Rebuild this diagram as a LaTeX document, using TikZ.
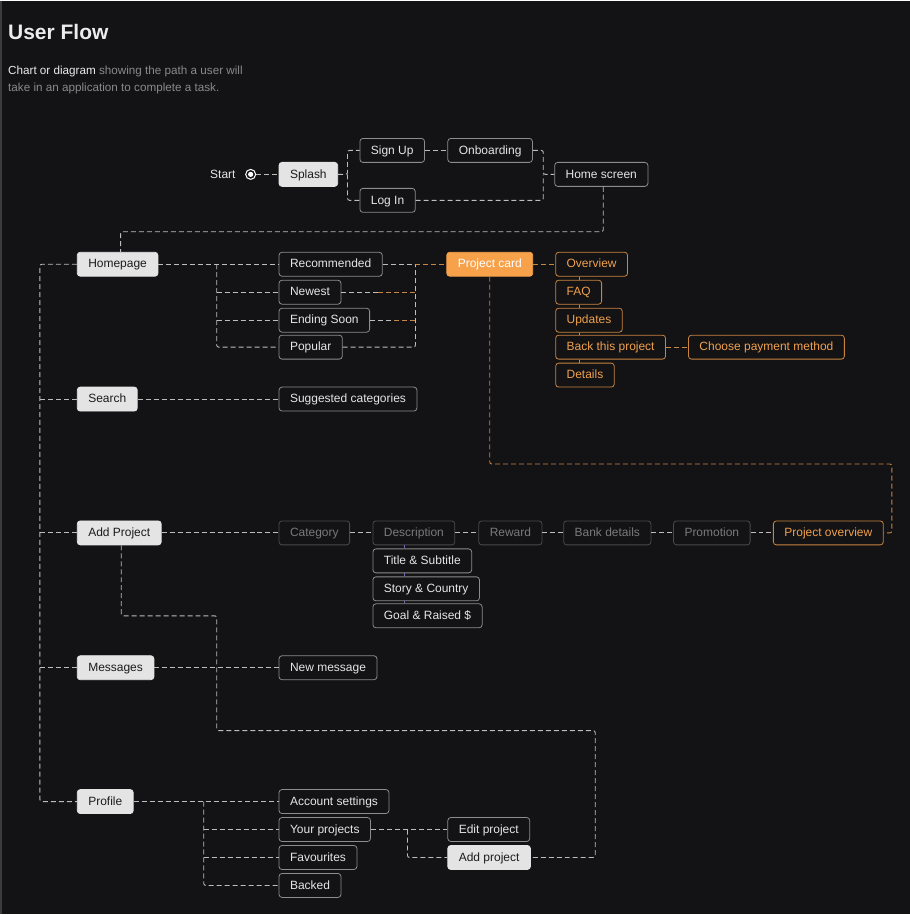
\documentclass[tikz,border=0pt]{standalone}
\usepackage{fontspec}
\setmainfont{Liberation Sans}
\definecolor{bg}{RGB}{19,18,20}
\definecolor{edgec}{RGB}{60,60,62}
\definecolor{boxline}{RGB}{140,140,140}
\definecolor{boxtext}{RGB}{230,230,230}
\definecolor{fillc}{RGB}{228,228,228}
\definecolor{darktext}{RGB}{27,27,27}
\definecolor{orangefill}{RGB}{247,162,75}
\definecolor{orangeline}{RGB}{200,133,64}
\definecolor{orangetext}{RGB}{240,161,79}
\definecolor{dimline}{RGB}{74,74,74}
\definecolor{dimtext}{RGB}{122,122,122}
\definecolor{linec}{RGB}{189,189,189}
\definecolor{vline}{RGB}{111,111,184}
\definecolor{titlec}{RGB}{236,236,236}
\definecolor{subgray}{RGB}{138,138,138}
\begin{document}
\begin{tikzpicture}[x=1pt,y=-1pt,
  every node/.style={font=\fontsize{12}{14}\selectfont},
  box/.style={draw=boxline, rounded corners=3pt, line width=0.8pt, text=boxtext,
    minimum height=24pt, inner xsep=11pt, inner ysep=0pt, text height=8.6pt, text depth=1.2pt, anchor=west},
  fbox/.style={box, fill=fillc, draw=fillc, text=darktext},
  obox/.style={box, draw=orangeline, text=orangetext},
  pbox/.style={box, fill=orangefill, draw=orangefill, text=white},
  dbox/.style={box, draw=dimline, text=dimtext},
  link/.style={draw=linec, dash pattern=on 5pt off 3pt, line width=0.9pt, rounded corners=2pt},
  olink/.style={link, draw=orangeline},
  slink/.style={draw=orangeline, line width=0.8pt},
  plink/.style={draw=vline, line width=0.8pt}
]
\fill[bg] (0,0) rectangle (911,915);
\draw[edgec, line width=1.2pt] (1,0) -- (1,915);

% title
\node[anchor=base west, inner sep=0, font=\bfseries\fontsize{21}{25}\selectfont, text=titlec] (title) at (8,39) {User Flow};
\node[anchor=base west, inner sep=0, font=\fontsize{11.7}{14}\selectfont, text=subgray] (sub1) at (8,74) {\textcolor{titlec}{Chart or diagram} showing the path a user will};
\node[anchor=base west, inner sep=0, font=\fontsize{11.7}{14}\selectfont, text=subgray] (sub2) at (8,91) {take in an application to complete a task.};

% start
\node[anchor=east, inner sep=0, text=boxtext] (starttxt) at (236,174) {Start};
\node[circle, draw=white, line width=1pt, minimum size=10pt, inner sep=0] (startc) at (251,174) {};
\fill[white] (startc.center) circle (2.6pt);

% top nodes
\node[fbox] (splash) at (279,174) {Splash};
\node[box] (signup) at (360,150) {Sign Up};
\node[box] (onb) at (448,150) {Onboarding};
\node[box] (login) at (360,200) {Log In};
\node[box] (home) at (555,174) {Home screen};

% main column
\node[fbox] (homepage) at (77,264) {Homepage};
\node[fbox] (search) at (77,399) {Search};
\node[fbox] (addp) at (77,533) {Add Project};
\node[fbox] (msgs) at (77,668) {Messages};
\node[fbox] (profile) at (77,802) {Profile};

% homepage branch
\node[box] (rec) at (279,264) {Recommended};
\node[box] (newest) at (279,292) {Newest};
\node[box] (ending) at (279,320) {Ending Soon};
\node[box] (popular) at (279,347) {Popular};

\node[pbox] (pcard) at (447,264) {Project card};
\node[obox] (ov) at (556,264) {Overview};
\node[obox] (faq) at (556,292) {FAQ};
\node[obox] (upd) at (556,320) {Updates};
\node[obox] (back) at (556,347) {Back this project};
\node[obox] (pay) at (689,347) {Choose payment method};
\node[obox] (det) at (556,375) {Details};

% search
\node[box] (sugg) at (279,399) {Suggested categories};

% add project
\node[dbox] (cat) at (279,533) {Category};
\node[dbox] (desc) at (373,533) {Description};
\node[box] (tsub) at (373,561) {Title \& Subtitle};
\node[box] (story) at (373,589) {Story \& Country};
\node[box] (goal) at (373,616) {Goal \& Raised \$};
\node[dbox] (reward) at (479,533) {Reward};
\node[dbox] (bank) at (564,533) {Bank details};
\node[dbox] (promo) at (674,533) {Promotion};
\node[obox] (pov) at (774,533) {Project overview};

% messages
\node[box] (newmsg) at (279,668) {New message};

% profile
\node[box] (acct) at (279,802) {Account settings};
\node[box] (yourp) at (279,830) {Your projects};
\node[box] (fav) at (279,858) {Favourites};
\node[box] (backed) at (279,886) {Backed};
\node[box] (editp) at (448,830) {Edit project};
\node[fbox] (addproj) at (448,858) {Add project};

% coordinates
\coordinate (j1) at (348,174);
\coordinate (j2) at (544,174);
\coordinate (hb) at (217,264);
\coordinate (oj) at (416,264);
\coordinate (oc) at (893,464);
\coordinate (k1) at (217,616);
\coordinate (k2) at (596,731);
\coordinate (pb) at (204,802);
\coordinate (yj) at (408,830);

% top links
\draw[link] (startc) -- (splash);
\draw[link] (splash.east) -- (j1) |- (signup.west);
\draw[link] (j1) |- (login.west);
\draw[link] (signup) -- (onb);
\draw[link] (onb.east) -| (j2) -- (home.west);
\draw[link] (login.east) -| (j2);
\draw[link] ([xshift=2pt]home.south) -- ++(0,45) -| ([xshift=3pt]homepage.north);

% spine
\draw[link] (homepage.west) -- ++(-37,0) |- (profile.west);
\draw[link] (search.west) -- ++(-37,0);
\draw[link] (addp.west) -- ++(-37,0);
\draw[link] (msgs.west) -- ++(-37,0);

% homepage branch
\draw[link] (homepage) -- (rec);
\draw[link] (hb) |- (popular.west);
\draw[link] (hb |- newest) -- (newest.west);
\draw[link] (hb |- ending) -- (ending.west);
\draw[link] (rec.east) -- (oj);
\draw[olink] (oj) -- (pcard.west);
\draw[link] (popular.east) -| (oj);
\draw[link] (newest.east) -- ([xshift=37pt]newest.east);
\draw[olink] ([xshift=37pt]newest.east) -- (oj |- newest);
\draw[link] (ending.east) -- ([xshift=24pt]ending.east);
\draw[olink] ([xshift=24pt]ending.east) -- (oj |- ending);

% project card
\draw[olink] (pcard) -- (ov);
\draw[slink] ([xshift=24pt]ov.south west) -- ([xshift=24pt]faq.north west);
\draw[slink] ([xshift=24pt]faq.south west) -- ([xshift=24pt]upd.north west);
\draw[slink] ([xshift=24pt]upd.south west) -- ([xshift=24pt]back.north west);
\draw[slink] ([xshift=24pt]back.south west) -- ([xshift=24pt]det.north west);
\draw[olink] (back) -- (pay);
\draw[olink] (pcard.south) |- (oc) |- (pov.east);

% search
\draw[link] (search) -- (sugg);

% add project row
\draw[link] (addp) -- (cat);
\draw[link] (cat) -- (desc);
\draw[link] (desc) -- (reward);
\draw[link] (reward) -- (bank);
\draw[link] (bank) -- (promo);
\draw[link] (promo) -- (pov);
\draw[plink] ([xshift=32pt]desc.south west) -- ([xshift=32pt]tsub.north west);
\draw[plink] ([xshift=32pt]tsub.south west) -- ([xshift=32pt]story.north west);
\draw[plink] ([xshift=32pt]story.south west) -- ([xshift=32pt]goal.north west);
\draw[link] ([xshift=2pt]addp.south) |- (k1) |- (k2) |- (addproj.east);

% messages
\draw[link] (msgs) -- (newmsg);

% profile
\draw[link] (profile) -- (acct);
\draw[link] (pb) |- (backed.west);
\draw[link] (pb |- yourp) -- (yourp.west);
\draw[link] (pb |- fav) -- (fav.west);
\draw[link] (yourp) -- (editp);
\draw[link] (yj) |- (addproj.west);
\end{tikzpicture}
\end{document}
